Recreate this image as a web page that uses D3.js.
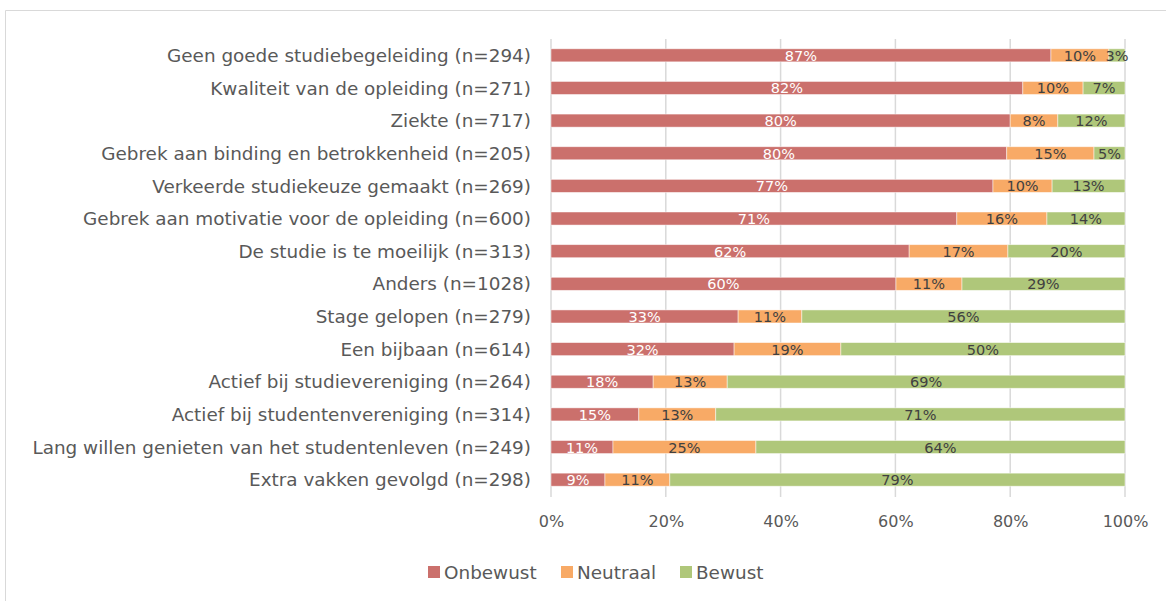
<!DOCTYPE html>
<html>
<head>
<meta charset="utf-8">
<script src="https://cdn.jsdelivr.net/npm/d3@7"></script>
<style>
  body { margin: 0; background: #fff; }
  svg { display: block; font-family: "DejaVu Sans", sans-serif; }
</style>
</head>
<body>
<svg id="chart" width="1166" height="601"></svg>
<script>
// categories, top to bottom
var categories = [
  "Geen goede studiebegeleiding (n=294)",
  "Kwaliteit van de opleiding (n=271)",
  "Ziekte (n=717)",
  "Gebrek aan binding en betrokkenheid (n=205)",
  "Verkeerde studiekeuze gemaakt (n=269)",
  "Gebrek aan motivatie voor de opleiding (n=600)",
  "De studie is te moeilijk (n=313)",
  "Anders (n=1028)",
  "Stage gelopen (n=279)",
  "Een bijbaan (n=614)",
  "Actief bij studievereniging (n=264)",
  "Actief bij studentenvereniging (n=314)",
  "Lang willen genieten van het studentenleven (n=249)",
  "Extra vakken gevolgd (n=298)"
];

var seriesNames = ["Onbewust", "Neutraal", "Bewust"];

// shares (fractions)
var onbewust = [0.871, 0.822, 0.800, 0.794, 0.770, 0.707, 0.624, 0.601, 0.326, 0.319, 0.178, 0.153, 0.108, 0.094];
var neutraal = [0.101, 0.105, 0.083, 0.152, 0.103, 0.157, 0.172, 0.115, 0.111, 0.186, 0.129, 0.134, 0.249, 0.113];
var bewust   = [0.028, 0.073, 0.117, 0.054, 0.127, 0.136, 0.204, 0.284, 0.563, 0.495, 0.693, 0.713, 0.643, 0.793];

// labels shown on the bars
var onbewustLabels = ["87%","82%","80%","80%","77%","71%","62%","60%","33%","32%","18%","15%","11%","9%"];
var neutraalLabels = ["10%","10%","8%","15%","10%","16%","17%","11%","11%","19%","13%","13%","25%","11%"];
var bewustLabels   = ["3%","7%","12%","5%","13%","14%","20%","29%","56%","50%","69%","71%","64%","79%"];

var xTicks = [0, 0.2, 0.4, 0.6, 0.8, 1];

var colors = ["#cb706c", "#f8aa66", "#afc77a"];

var svg = d3.select("#chart");

// outer frame of the chart object
svg.append("path")
  .attr("d", "M5.5,601 V10.5 H1166")
  .attr("fill", "none")
  .attr("stroke", "#d9d9d9")
  .attr("stroke-width", 1);

var x = d3.scaleLinear().domain([0, 1]).range([551, 1125]);
var y = d3.scaleBand().domain(categories).range([39, 496]).paddingInner(0.6).paddingOuter(0.3);

// gridlines
svg.append("g").selectAll("line")
  .data(xTicks)
  .enter().append("line")
  .attr("x1", d => x(d)).attr("x2", d => x(d))
  .attr("y1", 39).attr("y2", 497)
  .attr("stroke", "#d9d9d9")
  .attr("stroke-width", 1.5);

var rows = categories.map(function(c, i) {
  return { cat: c, Onbewust: onbewust[i], Neutraal: neutraal[i], Bewust: bewust[i],
           labels: [onbewustLabels[i], neutraalLabels[i], bewustLabels[i]] };
});

var stack = d3.stack().keys(seriesNames)(rows);

var layers = svg.append("g").selectAll("g")
  .data(stack)
  .enter().append("g")
  .attr("fill", (d, i) => colors[i]);

layers.selectAll("rect")
  .data(d => d)
  .enter().append("rect")
  .attr("x", d => x(d[0]))
  .attr("y", d => y(d.data.cat))
  .attr("width", d => x(d[1]) - x(d[0]))
  .attr("height", y.bandwidth())
  .attr("stroke", "#fff")
  .attr("stroke-opacity", 0.6)
  .attr("stroke-width", 0.8);

// labels in the middle of each segment
stack.forEach(function(layer, k) {
  svg.append("g").selectAll("text")
    .data(layer)
    .enter().append("text")
    .attr("x", d => x((d[0] + d[1]) / 2))
    .attr("y", d => y(d.data.cat) + y.bandwidth() / 2)
    .attr("dy", "0.38em")
    .attr("text-anchor", "middle")
    .attr("font-size", 14.5)
    .attr("fill", k === 0 ? "#ffffff" : "#404040")
    .text(d => d.data.labels[k]);
});

// category labels
svg.append("g").selectAll("text")
  .data(categories)
  .enter().append("text")
  .attr("x", 531)
  .attr("y", d => y(d) + y.bandwidth() / 2)
  .attr("dy", "0.36em")
  .attr("text-anchor", "end")
  .attr("font-size", 18.4)
  .attr("fill", "#595959")
  .text(d => d);

// x axis tick labels
var xAxis = d3.axisBottom(x).tickValues(xTicks).tickFormat(d3.format(".0%")).tickSize(0).tickPadding(0);
var ax = svg.append("g").attr("transform", "translate(0,516)").call(xAxis);
ax.select(".domain").remove();
ax.selectAll("text")
  .attr("font-family", "DejaVu Sans, sans-serif")
  .attr("font-size", 16)
  .attr("fill", "#595959");

// legend
var legendX = [428, 561, 680];
var legend = svg.append("g").selectAll("g")
  .data(seriesNames)
  .enter().append("g")
  .attr("transform", (d, i) => "translate(" + legendX[i] + ",566)");
legend.append("rect")
  .attr("width", 12).attr("height", 12)
  .attr("fill", (d, i) => colors[i]);
legend.append("text")
  .attr("x", 16).attr("y", 6).attr("dy", "0.36em")
  .attr("font-size", 18.4)
  .attr("fill", "#595959")
  .text(d => d);
</script>
</body>
</html>
